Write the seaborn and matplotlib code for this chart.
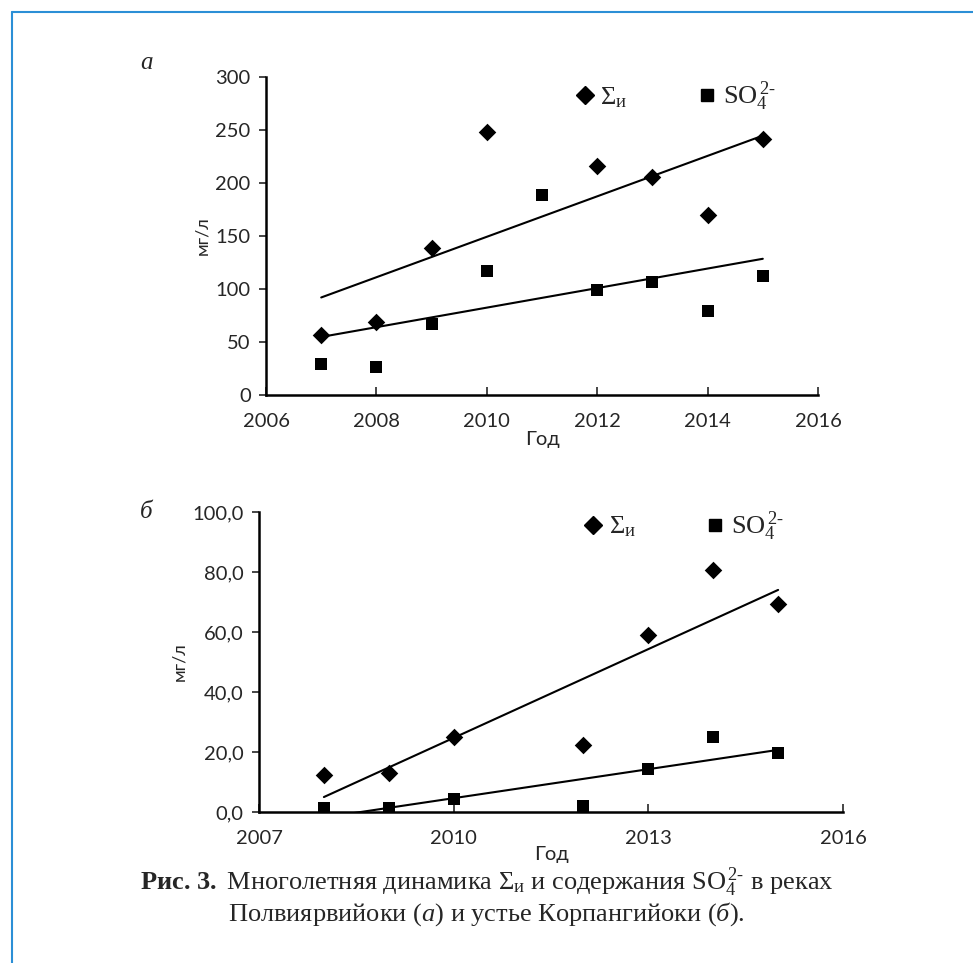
import numpy as np
import pandas as pd
import seaborn as sns
import matplotlib.pyplot as plt
from matplotlib.lines import Line2D

# panel a (Полвиярвийоки)
years_a_sum = [2007, 2008, 2009, 2010, 2012, 2013, 2014, 2015]
sum_a = [57, 69, 139, 248, 216, 206, 170, 242]
years_a_so4 = [2007, 2008, 2009, 2010, 2011, 2012, 2013, 2014, 2015]
so4_a = [29, 26, 67, 117, 189, 99, 107, 79, 112]

# panel b (устье Корпангийоки)
years_b = [2008, 2009, 2010, 2012, 2013, 2014, 2015]
sum_b = [12.2, 13.0, 24.9, 22.4, 58.9, 80.8, 69.3]
so4_b = [1.2, 1.5, 4.2, 2.0, 14.2, 25.0, 19.6]

yticks_a = [0, 50, 100, 150, 200, 250, 300]
xticks_a = [2006, 2008, 2010, 2012, 2014, 2016]
yticks_b = [0, 20, 40, 60, 80, 100]
xticks_b = [2007, 2010, 2013, 2016]

sns.set_style('white')
plt.rcParams['font.family'] = ['Lato', 'DejaVu Sans']
plt.rcParams['mathtext.fontset'] = 'custom'
plt.rcParams['mathtext.rm'] = 'Liberation Serif'
plt.rcParams['mathtext.it'] = 'Liberation Serif:italic'
plt.rcParams['mathtext.bf'] = 'Liberation Serif:bold'

fig = plt.figure(figsize=(9.73, 9.63), dpi=100)
ax_a = fig.add_axes([0.2734, 0.5898, 0.5673, 0.3302])
ax_b = fig.add_axes([0.2662, 0.1568, 0.6002, 0.3115])

lab_sum = r'$\mathrm{\Sigma_{и}}$'
lab_so4 = r'$\mathrm{SO_4^{\,2\text{-}}}$'

def draw(ax, xs1, ys1, xs2, ys2):
    sns.regplot(x=np.array(xs1), y=np.array(ys1), ax=ax, ci=None, color='black',
                marker='D', scatter_kws={'s': 80, 'linewidths': 0, 'zorder': 3, 'alpha': 1},
                line_kws={'lw': 1.5})
    sns.regplot(x=np.array(xs2), y=np.array(ys2), ax=ax, ci=None, color='black',
                marker='s', scatter_kws={'s': 70, 'linewidths': 0, 'zorder': 3, 'alpha': 1},
                line_kws={'lw': 1.5})
    for s in ['top', 'right']:
        ax.spines[s].set_visible(False)
    for s in ['left', 'bottom']:
        ax.spines[s].set_color('black')
        ax.spines[s].set_linewidth(1.8)
    ax.tick_params(axis='y', direction='out', length=5, width=1.2, left=True,
                   labelsize=14.5, pad=6)
    ax.tick_params(axis='x', direction='in', length=6, width=1.2, bottom=True,
                   labelsize=14.5, pad=13)
    ax.set_ylabel('мг/л', fontsize=13)
    handles = [Line2D([], [], marker='D', color='black', ls='', ms=9),
               Line2D([], [], marker='s', color='black', ls='', ms=8)]
    return handles

h = draw(ax_a, years_a_sum, sum_a, years_a_so4, so4_a)
ax_a.set_xlim(2006, 2016)
ax_a.set_ylim(0, 300)
ax_a.set_xticks(xticks_a)
ax_a.set_yticks(yticks_a)
ax_a.set_xlabel('Год', fontsize=14.5, labelpad=1)
ax_a.legend(h, [lab_sum, lab_so4], ncol=2, frameon=False, loc='upper left',
            bbox_to_anchor=(0.515, 1.065), handlelength=0.8, handletextpad=0.2,
            columnspacing=2.6, fontsize=19)

h = draw(ax_b, years_b, sum_b, years_b, so4_b)
ax_b.set_xlim(2007, 2016)
ax_b.set_ylim(0, 100)
ax_b.set_xticks(xticks_b)
ax_b.set_yticks(yticks_b)
ax_b.set_yticklabels([f'{v:.1f}'.replace('.', ',') for v in yticks_b])
ax_b.set_xlabel('Год', fontsize=14.5, labelpad=-1)
ax_b.legend(h, [lab_sum, lab_so4], ncol=2, frameon=False, loc='upper left',
            bbox_to_anchor=(0.513, 1.087), handlelength=0.8, handletextpad=0.2,
            columnspacing=2.6, fontsize=19)

fig.text(140 / 973, 1 - 63 / 963, 'а', family='Liberation Serif', style='italic',
         fontsize=18, ha='left', va='center')
fig.text(140 / 973, 1 - 512 / 963, 'б', family='Liberation Serif', style='italic',
         fontsize=18, ha='left', va='center')

cap1 = (r'$\mathbf{Рис.\,3.}$ Многолетняя динамика $\mathrm{\Sigma_{и}}$ и содержания '
        r'$\mathrm{SO_4^{\,2\text{-}}}$ в реках')
cap2 = r'Полвиярвийоки ($\mathit{а}$) и устье Корпангийоки ($\mathit{б}$).'
fig.text(0.5, 1 - 882 / 963, cap1, family='Liberation Serif', fontsize=19,
         ha='center', va='center')
fig.text(0.5, 1 - 914 / 963, cap2, family='Liberation Serif', fontsize=19,
         ha='center', va='center')

# blue frame (top and left edges)
blue = '#2b8fd6'
fig.add_artist(Line2D([12 / 973, 1], [1 - 12 / 963, 1 - 12 / 963], color=blue, lw=1.5))
fig.add_artist(Line2D([12 / 973, 12 / 973], [0, 1 - 12 / 963], color=blue, lw=1.5))

fig.savefig('out.png', dpi=100)
plt.close()
